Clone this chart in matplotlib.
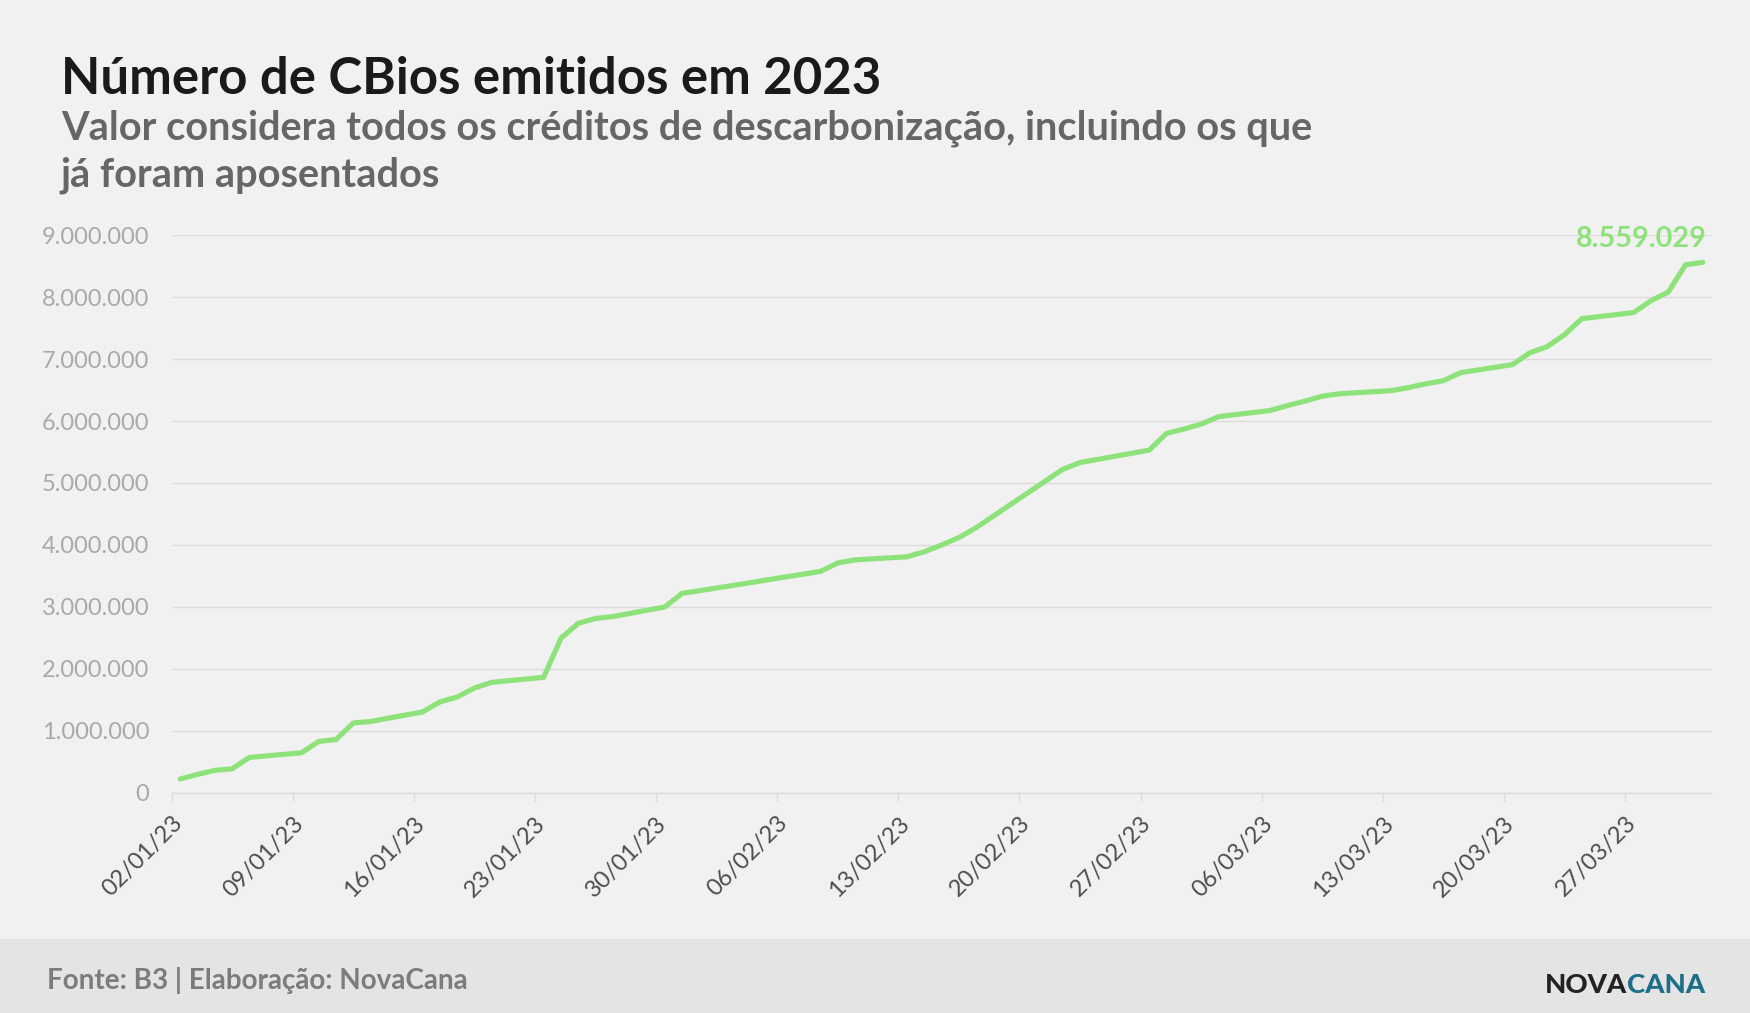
import matplotlib
matplotlib.use("Agg")
import matplotlib.pyplot as plt
import matplotlib.dates as mdates
from matplotlib import font_manager
from matplotlib.ticker import FuncFormatter, MultipleLocator
from matplotlib.patches import Rectangle
import pandas as pd

# dados (dias uteis)
dates = [
    "2023-01-02", "2023-01-03", "2023-01-04", "2023-01-05", "2023-01-06",
    "2023-01-09", "2023-01-10", "2023-01-11", "2023-01-12", "2023-01-13",
    "2023-01-16", "2023-01-17", "2023-01-18", "2023-01-19", "2023-01-20",
    "2023-01-23", "2023-01-24", "2023-01-25", "2023-01-26", "2023-01-27",
    "2023-01-30", "2023-01-31", "2023-02-01", "2023-02-02", "2023-02-03",
    "2023-02-06", "2023-02-07", "2023-02-08", "2023-02-09", "2023-02-10",
    "2023-02-13", "2023-02-14", "2023-02-15", "2023-02-16", "2023-02-17",
    "2023-02-22", "2023-02-23", "2023-02-24",
    "2023-02-27", "2023-02-28", "2023-03-01", "2023-03-02", "2023-03-03",
    "2023-03-06", "2023-03-07", "2023-03-08", "2023-03-09", "2023-03-10",
    "2023-03-13", "2023-03-14", "2023-03-15", "2023-03-16", "2023-03-17",
    "2023-03-20", "2023-03-21", "2023-03-22", "2023-03-23", "2023-03-24",
    "2023-03-27", "2023-03-28", "2023-03-29", "2023-03-30", "2023-03-31",
]
cbios = [
    225000, 300000, 365000, 390000, 574000,
    648000, 830000, 863000, 1130000, 1153000,
    1307000, 1468000, 1548000, 1693000, 1785000,
    1865000, 2497000, 2737000, 2815000, 2846000,
    3000000, 3220000, 3262000, 3306000, 3350000,
    3486000, 3529000, 3574000, 3710000, 3760000,
    3810000, 3890000, 4000000, 4120000, 4280000,
    5220000, 5330000, 5380000,
    5530000, 5800000, 5870000, 5950000, 6070000,
    6170000, 6250000, 6320000, 6400000, 6440000,
    6490000, 6540000, 6600000, 6650000, 6780000,
    6910000, 7100000, 7200000, 7390000, 7650000,
    7750000, 7940000, 8080000, 8520000, 8559029,
]

title = "Número de CBios emitidos em 2023"
subtitle1 = "Valor considera todos os créditos de descarbonização, incluindo os que"
subtitle2 = "já foram aposentados"
fonte = "Fonte: B3 | Elaboração: NovaCana"

bg = "#f1f1f1"
green = "#8ee27a"

plt.rcParams["font.family"] = ["Lato", "DejaVu Sans"]

fig = plt.figure(figsize=(17.5, 10.13), dpi=100, facecolor=bg)
ax = fig.add_axes([0.0981, 0.2172, 0.8799, 0.5508])
ax.set_facecolor(bg)

# pontos no meio do dia
x = pd.to_datetime(dates) + pd.Timedelta(hours=12)
ax.plot(x, cbios, color=green, lw=3.7, solid_capstyle="round", solid_joinstyle="round", zorder=3)

ax.set_xlim(pd.Timestamp("2023-01-02"), pd.Timestamp("2023-04-01"))
ax.set_ylim(0, 9000000)
ax.yaxis.set_major_locator(MultipleLocator(1000000))
ax.yaxis.set_major_formatter(FuncFormatter(lambda v, p: f"{int(v):,}".replace(",", ".")))
ax.xaxis.set_major_locator(mdates.WeekdayLocator(byweekday=mdates.MO))
ax.xaxis.set_major_formatter(mdates.DateFormatter("%d/%m/%y"))

ax.grid(axis="y", color="#dcdcdc", lw=1.0, zorder=0)
for s in ["top", "right", "left"]:
    ax.spines[s].set_visible(False)
ax.spines["bottom"].set_color("#dcdcdc")
ax.spines["bottom"].set_linewidth(1.0)

ax.tick_params(axis="y", length=0, pad=16, labelsize=17, labelcolor="#a9a9a9")
ax.tick_params(axis="x", length=6, width=1, color="#dcdcdc", pad=8, labelsize=17, labelcolor="#4d4d4d")
for lab in ax.get_xticklabels():
    lab.set_rotation(45)
    lab.set_ha("right")
    lab.set_va("top")
    lab.set_rotation_mode("anchor")

ax.annotate(f"{cbios[-1]:,}".replace(",", "."), xy=(x[-1], cbios[-1]), xytext=(3, 11),
            textcoords="offset points", ha="right", va="baseline",
            fontsize=20.7, fontweight="bold", color=green, zorder=4)

fig.text(0.0347, 0.9072, title, fontsize=36.7, fontweight="bold", color="#1a1a1a", va="baseline")
fig.text(0.0347, 0.8618, subtitle1, fontsize=28.6, fontweight="bold", color="#666666", va="baseline")
fig.text(0.0347, 0.8157, subtitle2, fontsize=28.6, fontweight="bold", color="#666666", va="baseline")

# rodape
fig.patches.append(Rectangle((0, 0), 1, 0.0731, transform=fig.transFigure,
                             facecolor="#e4e4e4", edgecolor="none", zorder=0))
fig.text(0.0268, 0.0234, fonte, fontsize=20.1, fontweight="bold", color="#7c7c7c", va="baseline")

# logo: fonte estreita se houver
names = {f.name for f in font_manager.fontManager.ttflist}
logo_font = dict(family="Lato", fontweight="black")
logo_w = 160
if "Liberation Sans Narrow" in names:
    logo_font = dict(family="Liberation Sans Narrow", fontweight="bold")
    logo_w = 141

t1 = fig.text(0, 0.0200, "NOVA", fontsize=24, color="#222222", va="baseline", **logo_font)
t2 = fig.text(0, 0.0200, "CANA", fontsize=24, color="#1f6e89", va="baseline", **logo_font)
r = fig.canvas.get_renderer()
w = t1.get_window_extent(r).width + t2.get_window_extent(r).width
size = 24 * logo_w / w
t1.set_fontsize(size)
t2.set_fontsize(size)
w1 = t1.get_window_extent(r).width
w2 = t2.get_window_extent(r).width
t2.set_x((1705 - w2) / 1750)
t1.set_x((1705 - w2 - w1) / 1750)

fig.savefig("out.png", dpi=100, facecolor=bg)
